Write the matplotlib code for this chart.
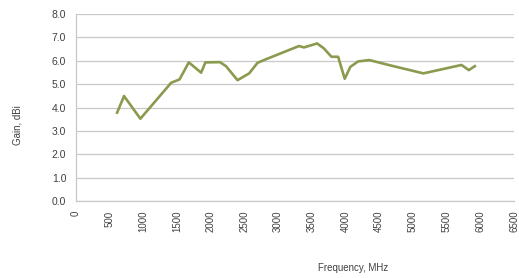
import matplotlib
matplotlib.use("Agg")
import matplotlib.pyplot as plt

freq = [610, 713, 955, 1413, 1536, 1674, 1857, 1920, 2137, 2225, 2397, 2570,
        2693, 2816, 3309, 3383, 3579, 3678, 3791, 3890, 3988, 4072, 4185,
        4353, 4638, 5155, 5721, 5830, 5919]
gain = [3.78, 4.49, 3.52, 5.06, 5.20, 5.93, 5.49, 5.93, 5.94, 5.77, 5.17, 5.46,
        5.91, 6.06, 6.63, 6.57, 6.74, 6.53, 6.17, 6.17, 5.23, 5.74, 5.97,
        6.03, 5.82, 5.46, 5.82, 5.60, 5.77]
x_ticks = list(range(0, 6501, 500))
y_ticks = [0, 1, 2, 3, 4, 5, 6, 7, 8]

plt.rcParams["font.family"] = ["Liberation Sans", "DejaVu Sans"]
text_color = "#404040"

fig = plt.figure(figsize=(5.19, 2.78), dpi=100)
ax = fig.add_axes([76 / 519, 1 - 201 / 278, 438 / 519, 187 / 278])

ax.plot(freq, gain, color="#8a9a4e", linewidth=1.9, solid_joinstyle="round")

ax.set_xlim(0, 6500)
ax.set_ylim(0, 8)
ax.set_xticks(x_ticks)
ax.set_xticklabels([str(t) for t in x_ticks], rotation=90, fontsize=7, color=text_color)
ax.set_yticks(y_ticks)
ax.set_yticklabels([f"{t:.1f}" for t in y_ticks], fontsize=7.5, color=text_color)
ax.tick_params(length=0)
ax.tick_params(axis="x", pad=7)
ax.tick_params(axis="y", pad=7)
ax.grid(axis="y", color="#c8c8c8", linewidth=0.9)
ax.set_axisbelow(True)
for side in ["top", "right"]:
    ax.spines[side].set_visible(False)
for side in ["left", "bottom"]:
    ax.spines[side].set_color("#c8c8c8")
    ax.spines[side].set_linewidth(0.9)

fig.text(18 / 519, 1 - 125 / 278, "Gain, dBi", rotation=90, fontsize=7,
         color=text_color, ha="center", va="center")
fig.text(353 / 519, 1 - 268 / 278, "Frequency, MHz", fontsize=7,
         color=text_color, ha="center", va="center")

fig.savefig("out.png", dpi=100)
